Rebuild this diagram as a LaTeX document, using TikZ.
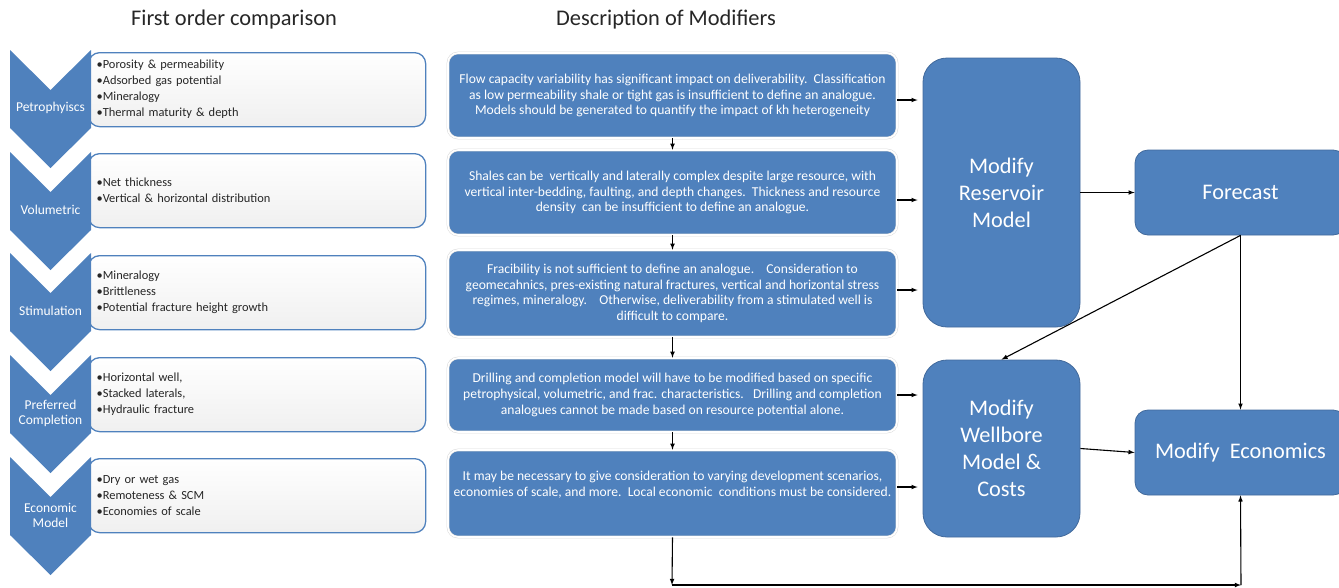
\documentclass[tikz,border=0pt]{standalone}
\usepackage{fontspec}
\setmainfont{Carlito}
\usepackage{tikz}
\usetikzlibrary{arrows}
\definecolor{ppblue}{HTML}{4F81BD}
\definecolor{ppedge}{HTML}{41699B}
\definecolor{pptext}{HTML}{262626}

\begin{document}
\begin{tikzpicture}[x=1pt,y=-1pt,
        arr/.style={-latex, line width=1.1pt, black},
        bullets/.style={draw=ppblue, line width=1.3pt, rounded corners=11pt, top color=white, bottom color=black!6,
                inner xsep=8pt, text width=321pt, minimum height=74pt, align=left, anchor=north west,
                text=pptext, font=\fontsize{12.4}{16}\selectfont},
        chevlabel/.style={text=white, align=center, font=\fontsize{13.5}{15}\selectfont},
        desc/.style={fill=ppblue, draw=black!15, double=white, double distance=1.6pt, line width=0.5pt,
                rounded corners=10pt, minimum width=449pt, text=white, align=center,
                font=\fontsize{13.6}{15.7}\selectfont},
        modbox/.style={fill=ppblue, draw=ppedge, line width=0.8pt, rounded corners=24pt, minimum width=157pt,
                text=white, align=center, font=\fontsize{22.3}{27}\selectfont},
        outbox/.style={fill=ppblue, draw=ppedge, line width=0.8pt, rounded corners=13pt, minimum width=211pt,
                minimum height=85pt, text=white, align=center, font=\fontsize{22.3}{27}\selectfont}]
        \useasboundingbox (0,0) rectangle (1339,587);
        \clip (0,0) rectangle (1339,587);

        % column titles
        \node[text=pptext, font=\fontsize{22.4}{26}\selectfont] (ttlcomp) at (234,20) {First order comparison};
        \node[text=pptext, font=\fontsize{22.4}{26}\selectfont] (ttldesc) at (666,20) {Description of Modifiers};

        % first order comparison
        \node[bullets] (bpetro) at (88,52) {•Porosity \& permeability\\•Adsorbed gas potential\\•Mineralogy\\•Thermal maturity \& depth};
        \node[bullets] (bvol) at (88,153) {•Net thickness\\•Vertical \& horizontal distribution};
        \node[bullets] (bstim) at (88,255) {•Mineralogy\\•Brittleness\\•Potential fracture height growth};
        \node[bullets] (bcomp) at (88,357) {•Horizontal well,\\•Stacked laterals,\\•Hydraulic fracture};
        \node[bullets] (becon) at (88,458) {•Dry or wet gas\\•Remoteness \& SCM\\•Economies of scale};

        \foreach \t/\lbl/\nm in {50/Petrophyiscs/cpetro, 152/Volumetric/cvol, 253/Stimulation/cstim,
                355/Preferred\\Completion/ccomp, 457/Economic\\Model/cecon} {
            \fill[ppblue] (10,\t) -- (50.5,\t+40) -- (91,\t) -- (91,\t+78) -- (50.5,\t+118) -- (10,\t+78) -- cycle;
            \node[chevlabel] (\nm) at (50.5,\t+58) {\lbl};
        }

        % description of modifiers
        \node[desc, minimum height=85pt] (mflow) at (672.5,95.5) {Flow capacity variability has significant impact on deliverability.\ \ Classification\\as low permeability shale or tight gas is insufficient to define an analogue.\\Models should be generated to quantify the impact of kh heterogeneity};
        \node[desc, minimum height=85pt] (mshale) at (672.5,192.5) {Shales can be\ \ vertically and laterally complex despite large resource, with\\vertical inter-bedding, faulting, and depth changes.\ \ Thickness and resource\\density\ \ can be insufficient to define an analogue.};
        \node[desc, minimum height=87pt] (mfrac) at (672.5,293.5) {Fracibility is not sufficient to define an analogue.\ \ \ \ Consideration to\\geomecahnics, pres-existing natural fractures, vertical and horizontal stress\\regimes, mineralogy.\ \ \ \ Otherwise, deliverability from a stimulated well is\\difficult to compare.};
        \node[desc, minimum height=74pt] (mdrill) at (672.5,395) {Drilling and completion model will have to be modified based on specific\\petrophysical, volumetric, and frac. characteristics.\ \ \ Drilling and completion\\analogues cannot be made based on resource potential alone.};
        \node[desc, minimum height=87pt] (mecon) at (672.5,493.5) {It may be necessary to give consideration to varying development scenarios,\\economies of scale, and more.\ \ Local economic\ \ conditions must be considered.\\[4pt]};

        % modify boxes
        \node[modbox, minimum height=269pt] (res) at (1001.5,192.5) {Modify\\Reservoir\\Model};
        \node[modbox, minimum height=177pt] (well) at (1001.5,448.5) {Modify\\Wellbore\\Model \&\\Costs};
        \node[outbox] (fcast) at (1240.5,192.5) {Forecast};
        \node[outbox] (econ) at (1240.5,452.5) {Modify\ \ Economics};

        \coordinate (dn) at (672,585);
        \coordinate (cr) at (1241,585);

        % connectors
        \draw[arr] (mflow) -- (mshale);
        \draw[arr] (mshale) -- (mfrac);
        \draw[arr] (mfrac) -- (mdrill);
        \draw[arr] (mdrill) -- (mecon);

        \draw[arr, shorten >=5pt] (mflow.east |- 0,100) -- (res.west |- 0,100);
        \draw[arr, shorten >=5pt] (mshale.east |- 0,200) -- (res.west |- 0,200);
        \draw[arr, shorten >=5pt] (mfrac.east |- 0,290) -- (res.west |- 0,290);
        \draw[arr, shorten >=5pt] (mdrill.east |- 0,395) -- (well.west |- 0,395);
        \draw[arr, shorten >=5pt] (mecon.east |- 0,487) -- (well.west |- 0,487);

        \draw[arr] (res) -- (fcast);
        \draw[arr] (fcast.south) -- (well.north);
        \draw[arr] (fcast.south) -- (econ.north);
        \draw[arr] (well.east) -- (econ.west);

        \draw[arr] (mecon.south) -- (dn);
        \draw[arr] (dn) -- (cr);
        \draw[arr] (cr) -- (econ.south);
\end{tikzpicture}
\end{document}
